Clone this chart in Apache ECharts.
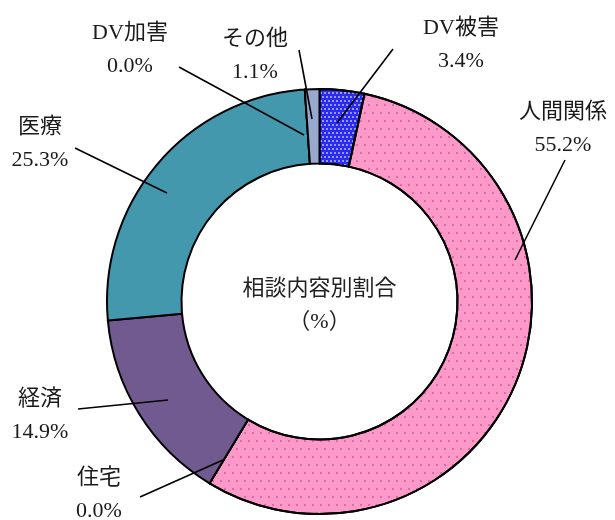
<!DOCTYPE html>
<html>
<head>
<meta charset="utf-8">
<script src="https://cdn.jsdelivr.net/npm/echarts@6/dist/echarts.min.js"></script>
<style>
html,body{margin:0;padding:0;background:#fff;}
#chart{width:615px;height:520px;}
</style>
</head>
<body>
<div id="chart"></div>
<script>
// Data (clockwise from 12 o'clock)
const categories = ['DV被害', '人間関係', '住宅', '経済', '医療', 'DV加害', 'その他'];
const percentValues = [3.4, 55.2, 0.0, 14.9, 25.3, 0.0, 1.1];
const centerTitle = '相談内容別割合';
const centerUnit = '（%）';

// Styling / layout (not data)
const sliceColors = ['#2b2bf0', '#fc99c9', '#715a8f', '#715a8f', '#4398ae', '#4398ae', '#98a9cf'];
const labelPos = [
  [461, 45], [563, 129], [99, 495], [40, 416], [40, 144], [130, 50], [255, 56]
];
const leaderPts = [
  [[393, 49], [337, 123]],
  [[565, 160], [515, 260]],
  [[140, 497], [223, 460]],
  [[78, 409], [168, 400]],
  [[75, 148], [167, 193]],
  [[179, 67], [304, 135]],
  [[299, 50], [312, 119]]
];
const FONT = "'Liberation Serif', 'Noto Sans CJK JP', serif";

const decals = {
  0: { symbol: 'rect', symbolSize: 1, color: 'rgba(190,190,255,0.75)',
       dashArrayX: [[1.5, 1.5], [0, 1.5, 1.5, 0]], dashArrayY: [1.5, 1.5] },
  1: { symbol: 'circle', symbolSize: 1, color: 'rgba(170,50,120,0.55)',
       dashArrayX: [[2, 6], [0, 4, 2, 2]], dashArrayY: [2, 6] }
};

const chart = echarts.init(document.getElementById('chart'), null, { renderer: 'canvas' });

const fillData = categories.map((name, i) => {
  const item = { name: name, value: percentValues[i], itemStyle: { color: sliceColors[i] } };
  if (decals[i]) item.itemStyle.decal = decals[i];
  return item;
});
const labelData = categories.map((name, i) => ({ name: name, value: percentValues[i] }));

const common = {
  type: 'pie',
  center: [319.5, 301.5],
  radius: [138, 212.5],
  startAngle: 90,
  clockwise: true,
  minAngle: 0,
  avoidLabelOverlap: false,
  stillShowZeroSum: true,
  emphasis: { disabled: true },
  silent: true
};

chart.setOption({
  animation: false,
  backgroundColor: '#ffffff',
  graphic: [{
    type: 'text',
    x: 319.5,
    y: 306,
    style: {
      text: centerTitle + '\n' + centerUnit,
      align: 'center',
      verticalAlign: 'middle',
      fontSize: 22,
      lineHeight: 33,
      fontFamily: FONT,
      fill: '#222'
    }
  }],
  series: [
    Object.assign({}, common, {
      z: 2,
      data: fillData,
      itemStyle: { borderColor: '#000', borderWidth: 2 },
      label: { show: false },
      labelLine: { show: false }
    }),
    Object.assign({}, common, {
      z: 5,
      data: labelData,
      itemStyle: { color: 'rgba(0,0,0,0)', borderWidth: 0 },
      label: {
        show: true,
        position: 'outside',
        formatter: p => p.name + '\n' + p.value.toFixed(1) + '%',
        fontFamily: FONT,
        fontSize: 22,
        lineHeight: 33,
        color: '#1a1a1a',
        align: 'center'
      },
      labelLine: {
        show: true,
        smooth: false,
        length: 10,
        length2: 10,
        lineStyle: { color: '#000', width: 1.6 }
      },
      labelLayout: function (params) {
        const i = params.dataIndex;
        const lp = leaderPts[i];
        return {
          x: labelPos[i][0],
          y: labelPos[i][1],
          align: 'center',
          verticalAlign: 'middle',
          labelLinePoints: [lp[1], lp[0], lp[0]]
        };
      }
    })
  ]
});
</script>
</body>
</html>
